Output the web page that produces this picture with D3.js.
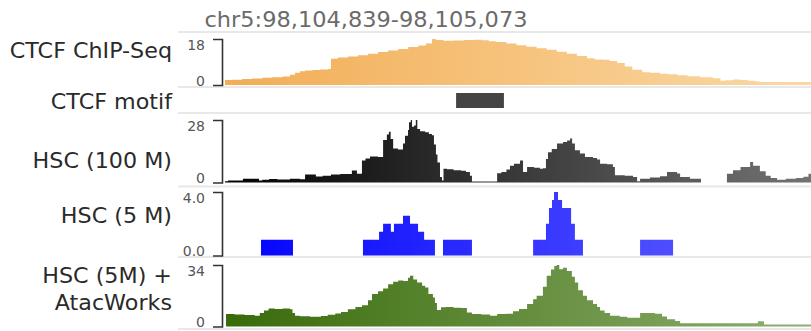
<!DOCTYPE html>
<html>
<head>
<meta charset="utf-8">
<script src="https://cdn.jsdelivr.net/npm/d3@7"></script>
<style>
  body { margin: 0; background: #fff; }
  svg { display: block; }
</style>
</head>
<body>
<svg id="chart" width="811" height="331"></svg>
<script>
// Genomic window shown in the browser view
const regionTitle = "chr5:98,104,839-98,105,073";
const regionLength = 234; // bp from 98,104,839 to 98,105,073

// Track labels and axis maxima
const trackLabels = ["CTCF ChIP-Seq", "CTCF motif", "HSC (100 M)", "HSC (5 M)", ["HSC (5M) +", "AtacWorks"]];
const trackMax = [18, null, 28, 4.0, 34];
const tickFormats = ["d", null, "d", ".1f", "d"];

// Coverage signals: [offset in bp from window start, value], stepped until the next entry
const chipSeq = [
  [1.2, 2.0], [4, 2.1], [8, 2.3], [12, 2.5], [16, 2.8], [20, 3.0], [24, 3.3], [27, 4.0], [29, 4.8],
  [31, 5.4], [33, 5.7], [36, 5.9], [39, 6.1], [42, 6.3], [43.3, 10.3], [46, 10.8], [50, 11.2],
  [54, 11.6], [58, 12.2], [62, 12.9], [66, 13.5], [70, 14.1], [74, 14.9], [78, 15.5], [81, 16.2],
  [83.4, 18.0], [85, 17.6], [88, 17.3], [92, 17.4], [96, 17.6], [100, 17.7], [103, 17.5], [106, 17.1],
  [109, 16.8], [113, 16.2], [117, 15.6], [121, 15.0], [125, 14.4], [129, 13.8], [133, 13.0],
  [137, 12.2], [141, 11.3], [145, 10.5], [148, 10.0], [151, 9.9], [154, 9.4], [157, 8.6], [160, 7.2],
  [163, 6.0], [167, 5.0], [170, 4.8], [174, 4.4], [177, 4.2], [181, 3.8], [185, 3.4], [190, 3.0],
  [195, 2.6], [198, 1.7], [200, 1.9], [203, 2.2], [206, 2.0], [209, 1.7], [212, 1.4], [214, 1.2]
];

// CTCF motif interval (bp offsets)
const ctcfMotif = [93, 112];

const hsc100M = [
  [1.2, 0.6], [2.4, 0.9], [8.3, 1.7], [14.7, 0.9], [16, 1.2], [18.7, 1.6], [22, 1.4], [27, 1.7],
  [31, 1.5], [33, 3.6], [37.3, 2.7], [40, 3.0], [43.3, 3.6], [47, 3.8], [51.6, 5.4], [53.6, 3.9],
  [55.6, 9.9], [57, 10.8], [58.8, 11.7], [62, 11.4], [64, 19.0], [65.5, 21.5], [66.3, 22.7],
  [67, 19.5], [68, 15.2], [69.9, 14.8], [71.9, 17.5], [72.7, 21.0], [73.9, 23.5], [74.3, 27.0],
  [75, 28.0], [75.5, 25.0], [76.3, 25.5], [77, 28.0], [77.6, 24.0], [78.7, 23.0], [80.7, 22.5],
  [82.2, 21.7], [83.4, 21.2], [84.2, 17.0], [85, 12.5], [85.6, 9.0], [86.6, 2.5], [87.4, 0.9],
  [88, 6.2], [89.4, 5.9], [92, 5.5], [95, 5.3], [96.9, 4.7], [98.5, 3.0], [99.3, 0.4],
  [109.3, 4.2], [111, 4.7], [113, 5.8], [114.4, 7.5], [116, 8.4], [118.4, 9.9], [119.6, 4.7],
  [121.2, 6.9], [124, 6.6], [126.3, 6.2], [127.5, 6.4], [128.7, 10.5], [129.5, 13.5], [131, 15.0],
  [133.1, 17.5], [135.5, 18.2], [137.1, 18.8], [138.3, 19.7], [139.1, 17.5], [140.2, 14.5],
  [142.2, 13.0], [144.2, 11.4], [147.4, 11.0], [149, 10.3], [150.2, 8.4], [153, 8.2], [155.3, 7.0],
  [156.1, 3.2], [160, 3.0], [163.3, 2.5], [164.9, 0.6], [166.1, 1.7], [170, 2.2], [174, 2.8],
  [176.8, 4.7], [180.8, 4.0], [182, 2.5], [185.9, 1.7], [190.3, null], [200.6, 3.9], [203, 5.5],
  [206, 7.0], [209.8, 9.2], [211, 7.5], [213.7, 5.0], [216, 3.0], [218, 2.0], [220.5, 1.2],
  [224, 1.7], [228, 2.0], [231, 2.6], [233, 3.9]
];

const hsc5M = [
  [15.5, 1], [28.2, 0], [56.0, 1], [62.4, 1.5], [64.0, 2], [67.1, 1.5], [68.3, 2], [71.9, 2.5],
  [74.7, 2], [77.9, 1.5], [80.3, 1], [84.6, 0], [87.8, 1], [99.3, 0], [123.6, 1], [128.7, 2],
  [129.9, 3], [131.1, 3.5], [131.9, 4], [133.5, 3.5], [135.1, 3], [138.7, 2], [140.2, 1],
  [143.4, 0], [166.1, 1], [179.2, 0]
];

const hsc5MAtacWorks = [
  [1.6, 6.9], [5, 6.7], [9, 6.3], [13, 6.0], [15, 7.5], [16.7, 8.8], [18.5, 10.0], [21, 9.7],
  [24, 10.0], [27, 9.5], [28, 7.5], [29, 6.0], [31, 5.6], [35, 5.4], [39.3, 5.8], [42, 6.5],
  [45, 7.2], [47.3, 8.0], [50, 9.5], [53, 10.8], [55.6, 11.8], [58, 14.5], [59.6, 17.9], [62, 19.5],
  [64, 21.0], [66, 23.4], [68, 24.8], [70, 25.5], [72, 25.2], [73.9, 27.0], [74.7, 28.0], [76, 26.0],
  [77.5, 24.3], [79.5, 22.5], [80.7, 21.5], [82, 18.0], [83.8, 16.0], [84.6, 13.0], [85.4, 9.1],
  [87, 10.6], [89, 10.8], [92, 10.4], [95, 10.2], [97.3, 7.8], [99.3, 6.9], [103, 6.6], [106.5, 6.0],
  [109.3, 6.9], [113, 7.0], [115.6, 8.5], [118, 9.7], [121.2, 12.4], [123.6, 15.0], [125, 17.0],
  [127.5, 22.0], [129, 28.0], [130.7, 31.5], [132, 33.4], [133, 34.0], [134, 31.6], [135.5, 32.5],
  [137, 30.7], [139, 27.5], [140.2, 24.3], [141.5, 20.0], [143.4, 17.0], [145, 14.5], [147.4, 12.5],
  [149, 10.8], [150.2, 8.8], [152, 7.5], [154.2, 6.0], [158, 5.4], [161, 4.8], [166.1, 7.5],
  [172, 7.0], [174.8, 5.5], [176.8, 4.0], [180, 3.0], [182, 1.8], [212.9, 2.9], [215.3, 1.1]
];

// ---- layout ----
const svg = d3.select("#chart");
const x = d3.scaleLinear().domain([0, regionLength]).range([222, 811]);
const axisX = 222;
const labelRight = 172;
const font = "DejaVu Sans, sans-serif";

const layout = [
  { top: 39,  base: 85,    labelY: [58],       colors: ["#f2ad55", "#fad9a5"] },
  { top: 93,  base: 108,   labelY: [109],      colors: ["#444444", "#444444"] },
  { top: 120, base: 182.5, labelY: [168],      colors: ["#000000", "#737373"] },
  { top: 192, base: 255.5, labelY: [223],      colors: ["#0000ff", "#6666ff"] },
  { top: 265, base: 326.5, labelY: [283, 310], colors: ["#386a09", "#8eb070"] }
];
const series = [chipSeq, null, hsc100M, hsc5M, hsc5MAtacWorks];
const separators = [32, 87, 113, 186.5, 257, 329];

// Title
svg.append("text")
  .attr("x", 366).attr("y", 27)
  .attr("text-anchor", "middle")
  .attr("font-family", font).attr("font-size", 20.5)
  .attr("fill", "#6b6b6b")
  .attr("textLength", 323).attr("lengthAdjust", "spacingAndGlyphs")
  .text(regionTitle);

// Track separators
svg.append("g").selectAll("line").data(separators).join("line")
  .attr("x1", 178).attr("x2", 811)
  .attr("y1", d => d).attr("y2", d => d)
  .attr("stroke", "#e8e8e8").attr("stroke-width", 2);

// Horizontal colour gradients per track
const defs = svg.append("defs");
layout.forEach((l, i) => {
  const g = defs.append("linearGradient")
    .attr("id", "grad" + i)
    .attr("gradientUnits", "userSpaceOnUse")
    .attr("x1", x(0)).attr("x2", x(regionLength)).attr("y1", 0).attr("y2", 0);
  g.append("stop").attr("offset", "0%").attr("stop-color", l.colors[0]);
  g.append("stop").attr("offset", "100%").attr("stop-color", l.colors[1]);
});

// Expand stepped series into corner points
function stepPoints(s) {
  const pts = [];
  s.forEach(([p, v], i) => {
    const next = i < s.length - 1 ? s[i + 1][0] : regionLength;
    pts.push({ p, v }, { p: next, v });
  });
  return pts;
}

layout.forEach((l, i) => {
  const g = svg.append("g");

  // Track label
  const lines = Array.isArray(trackLabels[i]) ? trackLabels[i] : [trackLabels[i]];
  lines.forEach((t, k) => {
    g.append("text")
      .attr("transform", `translate(${labelRight},${l.labelY[k]}) scale(1.085,1)`)
      .attr("text-anchor", "end")
      .attr("font-family", font).attr("font-size", 20.5)
      .attr("fill", "#2a2a2a")
      .text(t);
  });

  if (series[i] === null) {
    // Motif feature box
    g.append("rect")
      .attr("x", x(ctcfMotif[0])).attr("width", x(ctcfMotif[1]) - x(ctcfMotif[0]))
      .attr("y", l.top).attr("height", l.base - l.top)
      .attr("fill", `url(#grad${i})`);
    return;
  }

  const y = d3.scaleLinear().domain([0, trackMax[i]]).range([l.base, l.top]);

  const area = d3.area()
    .defined(d => d.v != null)
    .x(d => x(d.p))
    .y0(l.base)
    .y1(d => y(d.v));

  g.append("path")
    .datum(stepPoints(series[i]))
    .attr("d", area)
    .attr("fill", `url(#grad${i})`);

  // Bracket-style data range axis
  const axis = d3.axisLeft(y)
    .tickValues([0, trackMax[i]])
    .tickFormat(d3.format(tickFormats[i]))
    .tickSizeInner(0)
    .tickSizeOuter(9)
    .tickPadding(17);

  const ag = g.append("g")
    .attr("transform", `translate(${axisX},0)`)
    .call(axis);
  ag.select(".domain").attr("stroke", "#333").attr("stroke-width", 1.6);
  ag.selectAll(".tick line").remove();
  ag.selectAll(".tick text")
    .attr("font-family", font).attr("font-size", 14).attr("fill", "#555")
    .attr("dy", d => d === 0 ? "0" : "0.74em");
});
</script>
</body>
</html>
